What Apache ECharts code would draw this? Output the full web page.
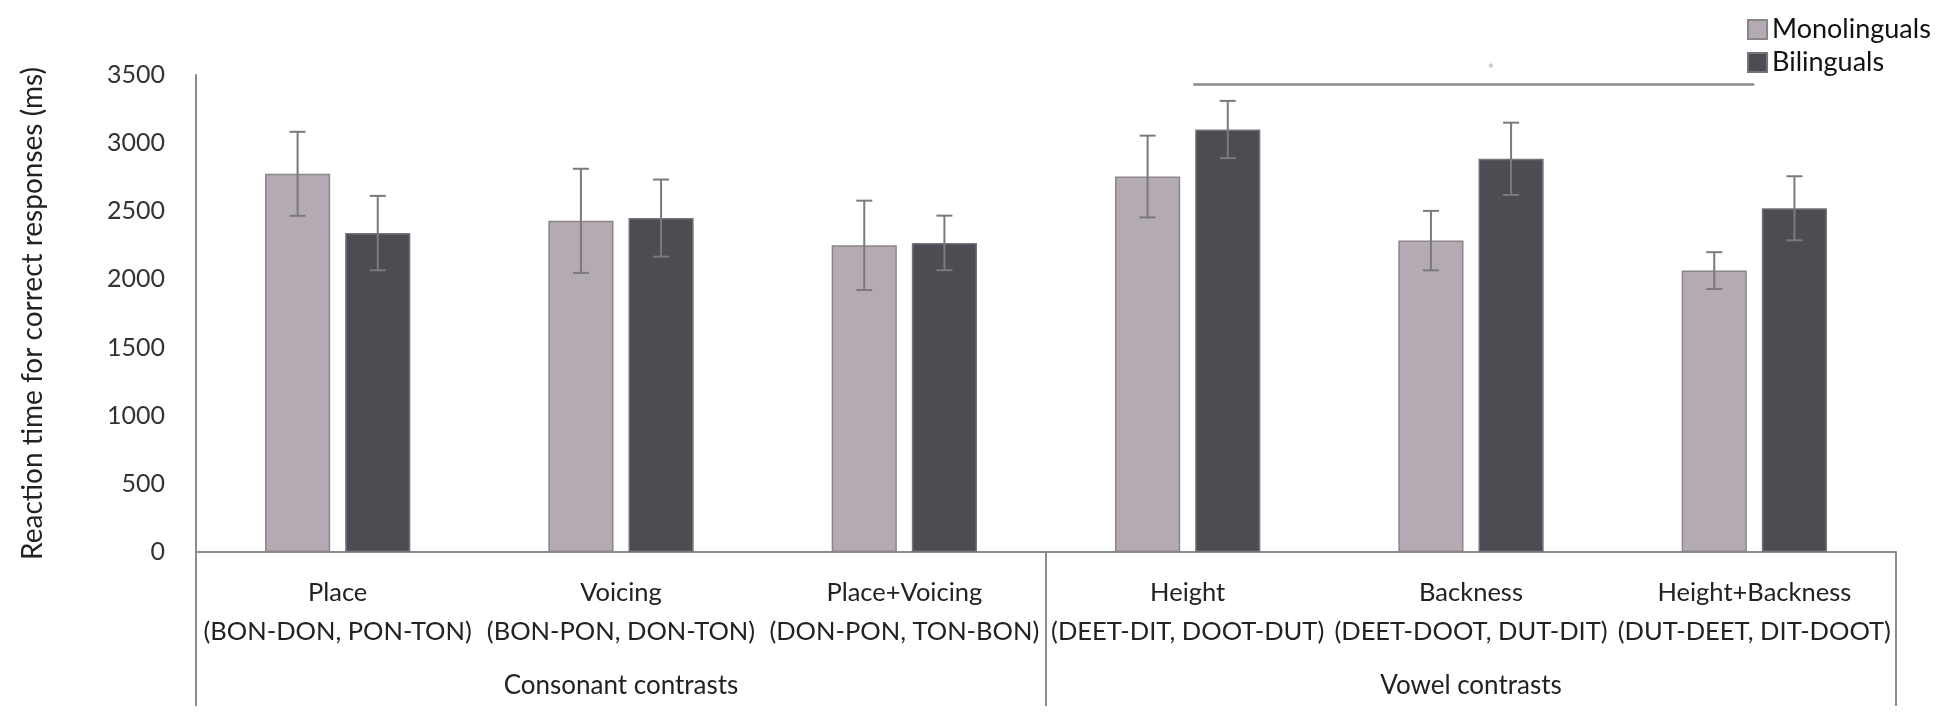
<!DOCTYPE html>
<html>
<head>
<meta charset="utf-8">
<script src="https://cdn.jsdelivr.net/npm/echarts@6/dist/echarts.min.js"></script>
<style>
html,body{margin:0;padding:0;background:#fff;}
#chart{width:1950px;height:720px;}
</style>
</head>
<body>
<div id="chart"></div>
<script>
const categories = [
  'Place\n(BON-DON, PON-TON)',
  'Voicing\n(BON-PON, DON-TON)',
  'Place+Voicing\n(DON-PON, TON-BON)',
  'Height\n(DEET-DIT, DOOT-DUT)',
  'Backness\n(DEET-DOOT, DUT-DIT)',
  'Height+Backness\n(DUT-DEET, DIT-DOOT)'
];
const groups = ['Consonant contrasts', 'Vowel contrasts'];
const monolinguals = [2775, 2430, 2250, 2755, 2285, 2065];
const monolingualsErr = [308, 382, 328, 300, 218, 135];
const bilinguals = [2340, 2450, 2268, 3100, 2885, 2522];
const bilingualsErr = [273, 283, 200, 210, 265, 235];
const yTicks = [0, 500, 1000, 1500, 2000, 2500, 3000, 3500];
const sigLine = [[3.52, 3430], [5.5, 3430]];
const sigStar = [[4.57, 3545]];

const FONT = 'Lato';
const AXIS_COLOR = '#8c8c8c';
const TEXT_COLOR = '#222';
const BAR_W = 0.23;
const GAP = 0.23;
const OFFSET = (BAR_W + BAR_W * GAP) / 2;

function errorRender(sign) {
  return function (params, api) {
    const idx = api.value(0);
    const val = api.value(1);
    const err = api.value(2);
    const cw = api.size([1, 0])[0];
    const c = api.coord([idx, val]);
    const x = c[0] + sign * cw * OFFSET;
    const top = api.coord([idx, val + err])[1];
    const bot = api.coord([idx, val - err])[1];
    const h = 8;
    const style = { stroke: '#7a7a7a', lineWidth: 2 };
    return {
      type: 'group',
      children: [
        { type: 'line', shape: { x1: x, y1: top, x2: x, y2: bot }, style: style },
        { type: 'line', shape: { x1: x - h, y1: top, x2: x + h, y2: top }, style: style },
        { type: 'line', shape: { x1: x - h, y1: bot, x2: x + h, y2: bot }, style: style }
      ]
    };
  };
}

const chart = echarts.init(document.getElementById('chart'));
chart.setOption({
  animation: false,
  backgroundColor: '#fff',
  textStyle: { fontFamily: FONT, color: TEXT_COLOR },
  legend: {
    orient: 'vertical',
    left: 1742,
    top: 11,
    icon: 'rect',
    itemWidth: 19,
    itemHeight: 19,
    itemGap: 6,
    textStyle: { fontFamily: FONT, fontSize: 27, color: '#111' },
    data: ['Monolinguals', 'Bilinguals']
  },
  grid: { left: 196, right: 54, top: 75, bottom: 168, containLabel: false },
  xAxis: [
    {
      type: 'category',
      data: categories,
      position: 'bottom',
      axisLine: { show: true, lineStyle: { color: AXIS_COLOR, width: 2 } },
      axisTick: { show: false },
      axisLabel: {
        interval: 0,
        margin: 21,
        fontFamily: FONT,
        fontSize: 25.5,
        lineHeight: 39,
        color: TEXT_COLOR
      },
      splitLine: { show: false }
    },
    {
      type: 'category',
      data: groups,
      position: 'bottom',
      axisLine: { show: false },
      axisTick: { show: true, length: 154, lineStyle: { color: AXIS_COLOR, width: 2 } },
      axisLabel: {
        interval: 0,
        margin: 121,
        fontFamily: FONT,
        fontSize: 26,
        color: TEXT_COLOR
      },
      splitLine: { show: false }
    },
    {
      type: 'value',
      min: 0,
      max: 6,
      show: false
    }
  ],
  yAxis: {
    type: 'value',
    min: yTicks[0],
    max: yTicks[yTicks.length - 1],
    interval: 500,
    name: 'Reaction time for correct responses (ms)',
    nameLocation: 'middle',
    nameGap: 149,
    nameTextStyle: { fontFamily: FONT, fontSize: 28, color: TEXT_COLOR },
    axisLine: { show: true, lineStyle: { color: AXIS_COLOR, width: 2 } },
    axisTick: { show: false },
    splitLine: { show: false },
    axisLabel: {
      margin: 31,
      fontFamily: FONT,
      fontSize: 25,
      color: '#333',
      formatter: function (v) { return String(v); }
    }
  },
  series: [
    {
      name: 'Monolinguals',
      type: 'bar',
      xAxisIndex: 0,
      data: monolinguals,
      barWidth: (BAR_W * 100) + '%',
      barGap: (GAP * 100) + '%',
      itemStyle: { color: '#b4aab3', borderColor: '#8a8589', borderWidth: 1.5 }
    },
    {
      name: 'Bilinguals',
      type: 'bar',
      xAxisIndex: 0,
      data: bilinguals,
      barWidth: (BAR_W * 100) + '%',
      barGap: (GAP * 100) + '%',
      itemStyle: { color: '#4e4c53', borderColor: '#75737a', borderWidth: 1.5 }
    },
    {
      type: 'custom',
      xAxisIndex: 0,
      renderItem: errorRender(-1),
      data: monolinguals.map((v, i) => [i, v, monolingualsErr[i]]),
      encode: { x: 0, y: 1 },
      z: 5,
      silent: true
    },
    {
      type: 'custom',
      xAxisIndex: 0,
      renderItem: errorRender(1),
      data: bilinguals.map((v, i) => [i, v, bilingualsErr[i]]),
      encode: { x: 0, y: 1 },
      z: 5,
      silent: true
    },
    {
      type: 'line',
      xAxisIndex: 2,
      data: sigLine,
      symbol: 'none',
      clip: false,
      lineStyle: { color: '#8a8a8a', width: 2.5 },
      silent: true
    },
    {
      type: 'scatter',
      xAxisIndex: 2,
      data: sigStar,
      symbolSize: 0,
      clip: false,
      silent: true,
      label: {
        show: true,
        position: 'inside',
        formatter: '*',
        fontFamily: FONT,
        fontSize: 16,
        color: '#9a9a9a'
      }
    }
  ]
});
</script>
</body>
</html>
